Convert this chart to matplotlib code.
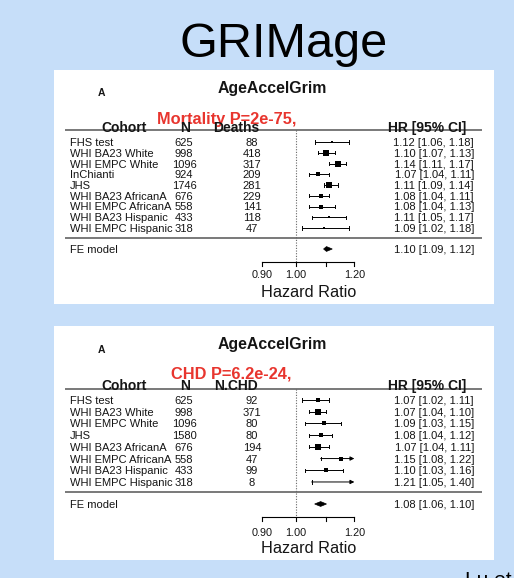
import numpy as np
import matplotlib.pyplot as plt
from matplotlib.patches import Rectangle, Polygon

plt.rcParams['font.family'] = ['Liberation Sans', 'DejaVu Sans']

# ---- data: mortality panel ----
mort_cohorts = ["FHS test", "WHI BA23 White", "WHI EMPC White", "InChianti", "JHS",
                "WHI BA23 AfricanA", "WHI EMPC AfricanA", "WHI BA23 Hispanic", "WHI EMPC Hispanic"]
mort_n = [625, 998, 1096, 924, 1746, 676, 558, 433, 318]
mort_deaths = [88, 418, 317, 209, 281, 229, 141, 118, 47]
mort_hr = [1.12, 1.10, 1.14, 1.07, 1.11, 1.08, 1.08, 1.11, 1.09]
mort_lo = [1.06, 1.07, 1.11, 1.04, 1.09, 1.04, 1.04, 1.05, 1.02]
mort_hi = [1.18, 1.13, 1.17, 1.11, 1.14, 1.11, 1.13, 1.17, 1.18]
mort_fe = [1.10, 1.09, 1.12]

# ---- data: CHD panel ----
chd_cohorts = ["FHS test", "WHI BA23 White", "WHI EMPC White", "JHS",
               "WHI BA23 AfricanA", "WHI EMPC AfricanA", "WHI BA23 Hispanic", "WHI EMPC Hispanic"]
chd_n = [625, 998, 1096, 1580, 676, 558, 433, 318]
chd_events = [92, 371, 80, 80, 194, 47, 99, 8]
chd_hr = [1.07, 1.07, 1.09, 1.08, 1.07, 1.15, 1.10, 1.21]
chd_lo = [1.02, 1.04, 1.03, 1.04, 1.04, 1.08, 1.03, 1.05]
chd_hi = [1.11, 1.10, 1.15, 1.12, 1.11, 1.22, 1.16, 1.40]
chd_fe = [1.08, 1.06, 1.10]

axis_ticks = [0.90, 1.00, 1.10, 1.20]
axis_labels = ["0.90", "1.00", "", "1.20"]

W, H = 514, 578
fig = plt.figure(figsize=(W / 100, H / 100), dpi=100)
fig.patch.set_facecolor('#c6def9')

# background axes in pixel units, forest axes with log HR scale on top
bg = fig.add_axes([0, 0, 1, 1])
bg.set_xlim(0, W)
bg.set_ylim(H, 0)
bg.axis('off')

ax = fig.add_axes([0, 0, 1, 1], zorder=2)
ax.patch.set_alpha(0)
ax.set_xscale('log')
ax.set_xlim(np.exp(-296 / 320), np.exp((W - 296) / 320))
ax.set_ylim(H, 0)
ax.axis('off')

INK = '#151515'


def txt(target, x, y, s, size, **kw):
    # y is the visual middle of the capitals
    base = y + 0.36 * size * 100 / 72
    kw.setdefault('color', INK)
    target.text(x, base, s, fontsize=size, va='baseline', **kw)


def forest(lay, red_label, ev_label, names, ns, events, hr, lo, hi, fe):
    hr, lo, hi = map(np.asarray, (hr, lo, hi))
    bg.add_patch(Rectangle((54, lay['top']), 440, 234, facecolor='white',
                           edgecolor='none'))
    txt(bg, 272, lay['title'], "AgeAccelGrim", 11.4, ha='center', fontweight='bold')
    txt(bg, 101, lay['A'], "A", 7.5, ha='center', fontweight='bold')
    txt(bg, lay['red_x'], lay['red'], red_label, 11.8, ha='left',
        fontweight='bold', color='#e8352e')

    hy = lay['head']
    txt(bg, 124, hy, "Cohort", 10, ha='center', fontweight='bold')
    txt(bg, 185, hy, "N", 10, ha='center', fontweight='bold')
    txt(bg, 236, hy, ev_label, 10, ha='center', fontweight='bold')
    txt(bg, 427, hy, "HR [95% CI]", 10, ha='center', fontweight='bold')

    for yl in (lay['line1'], lay['line2']):
        bg.plot([65, 482], [yl, yl], color='#555555', lw=1.1, solid_capstyle='butt')

    rows = lay['row0'] + lay['dy'] * np.arange(len(names))
    xmax = axis_ticks[-1]

    w = 1 / np.log(hi / lo) ** 2
    psize = 0.5 + (w - w.min()) / (w.max() - w.min())

    ax.plot([1, 1], [lay['line1'], lay['axis']], color='#666666', lw=0.8,
            ls=(0, (1, 1.4)))

    for i, y in enumerate(rows):
        txt(bg, 70, y, names[i], 8, ha='left')
        txt(bg, 184, y, str(ns[i]), 8, ha='center')
        txt(bg, 252, y, str(events[i]), 8, ha='center')
        txt(bg, 474, y, f"{hr[i]:.2f} [{lo[i]:.2f}, {hi[i]:.2f}]", 8, ha='right')

        ax.plot([lo[i], lo[i]], [y - 1.6, y + 1.6], color='k', lw=0.7)
        if hi[i] > xmax:
            ax.annotate('', xy=(xmax, y), xytext=(lo[i], y),
                        arrowprops=dict(arrowstyle='-|>', lw=0.7, color='k',
                                        mutation_scale=6, shrinkA=0, shrinkB=0))
        else:
            ax.plot([lo[i], hi[i]], [y, y], color='k', lw=0.7)
            ax.plot([hi[i], hi[i]], [y - 1.6, y + 1.6], color='k', lw=0.7)
        if hr[i] <= xmax:
            ax.plot(hr[i], y, marker='s', ms=psize[i] * 4.6 * 0.72, color='k', mew=0)

    fy = lay['fe']
    txt(bg, 70, fy, "FE model", 8, ha='left')
    txt(bg, 474, fy, f"{fe[0]:.2f} [{fe[1]:.2f}, {fe[2]:.2f}]", 8, ha='right')
    ax.add_patch(Polygon([(fe[1], fy), (fe[0], fy - 2.4), (fe[2], fy),
                          (fe[0], fy + 2.4)], closed=True, facecolor='k',
                         edgecolor='k', lw=0.5))

    ay = lay['axis']
    ax.plot([axis_ticks[0], axis_ticks[-1]], [ay, ay], color='k', lw=0.8)
    for t, lab in zip(axis_ticks, axis_labels):
        ax.plot([t, t], [ay, ay + 4], color='k', lw=0.8)
        if lab:
            txt(ax, t, lay['ticks'], lab, 7.8, ha='center')
    txt(ax, np.sqrt(axis_ticks[0] * axis_ticks[-1]), lay['xlab'], "Hazard Ratio",
        11.7, ha='center')


top_layout = dict(top=70, title=87, A=92, red=118, red_x=157, head=127, line1=130,
                  row0=142, dy=10.75, line2=238, fe=249, axis=262, ticks=274, xlab=291)
bot_layout = dict(top=326, title=343, A=349, red=373, red_x=171, head=385, line1=389,
                  row0=400, dy=11.71, line2=492, fe=504, axis=517, ticks=532, xlab=547)

forest(top_layout, "Mortality P=2e-75,", "Deaths", mort_cohorts, mort_n, mort_deaths,
       mort_hr, mort_lo, mort_hi, mort_fe)
forest(bot_layout, "CHD P=6.2e-24,", "N.CHD", chd_cohorts, chd_n, chd_events,
       chd_hr, chd_lo, chd_hi, chd_fe)

bg.text(283.5, 57, "GRIMage", fontsize=35, ha='center', va='baseline', color='black')
bg.text(465, 586, "Lu et al.", fontsize=15, ha='left', va='baseline', color='black')

fig.savefig('out.png', dpi=100, facecolor=fig.get_facecolor())
